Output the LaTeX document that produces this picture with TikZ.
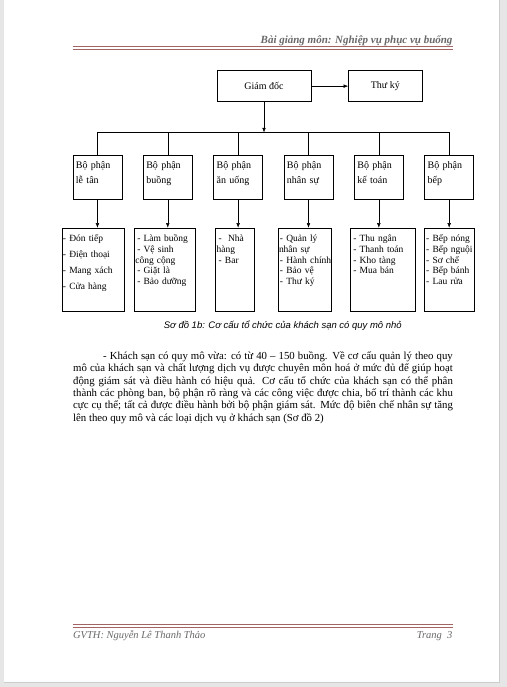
\documentclass[tikz,border=0pt]{standalone}
\usepackage{fontspec}
\setmainfont{Liberation Serif}
\newfontfamily\captionfont{Liberation Sans}
\usepackage{tikz}
\usetikzlibrary{positioning,arrows.meta}
\definecolor{pagegray}{RGB}{230,230,230}
\definecolor{edgegray}{RGB}{205,205,205}
\definecolor{rulered}{RGB}{165,100,100}
\definecolor{headgray}{RGB}{105,105,105}
\exhyphenpenalty=10000
\hbadness=10000
\tikzstyle{topbox}=[rectangle, draw=black, thin, minimum height=31pt, inner sep=0pt,
        text centered, font=\fontsize{10}{11}\selectfont]
\tikzstyle{deptbox}=[rectangle, draw=black, thin, anchor=north, text width=43pt,
        inner xsep=3pt, inner ysep=0pt, text height=13pt, text depth=31pt, align=left,
        font=\fontsize{10}{15}\selectfont]
\tikzstyle{taskbox}=[rectangle, draw=black, thin, inner xsep=1pt, inner ysep=0pt,
        text height=14pt, text depth=69pt, align=left,
        font=\fontsize{9.5}{10.6}\selectfont]
\tikzstyle{myarrow}=[-{Latex[length=4.5pt,width=3.5pt]}, thin]

\begin{document}
\begin{tikzpicture}[x=1pt, y=-1pt, node distance=21pt]
	% page
	\fill[pagegray] (0,0) rectangle (507,687);
	\fill[white] (4,0) rectangle (499,682);
	\draw[edgegray, line width=1pt] (499.5,0) -- (499.5,682.5) -- (4,682.5);
	\useasboundingbox (0,0) rectangle (507,687);

	% header and footer
	\node (Header) [anchor=base east, inner sep=0pt, text=headgray,
		font=\fontsize{11}{12}\selectfont\bfseries\itshape] at (453,43) {Bài giảng môn: Nghiệp vụ phục vụ buổng};
	\draw[rulered, line width=0.5pt] (73,46) -- (453,46);
	\draw[rulered, line width=1.1pt] (73,48.6) -- (453,48.6);
	\draw[rulered, line width=1.1pt] (73,624.5) -- (453,624.5);
	\draw[rulered, line width=0.5pt] (73,627.1) -- (453,627.1);
	\node (Author) [anchor=base west, inner sep=0pt, text=headgray,
		font=\fontsize{10.5}{12}\selectfont\itshape] at (73,638) {GVTH: Nguyễn Lê Thanh Thảo};
	\node (PageNo) [anchor=base east, inner sep=0pt, text=headgray,
		font=\fontsize{10.5}{12}\selectfont\itshape] at (453,638) {Trang~ 3};

	% top level
	\node (GiamDoc) [topbox, minimum width=94pt, anchor=north west] at (217,70) {Giám đốc};
	\node (ThuKy) [topbox, minimum width=74pt, right=37pt of GiamDoc] {Thư ký};
	\coordinate (BusLine) at (0,132);

	% departments
	\node (LeTan) [deptbox] at (97.5,155) {Bộ phận\\lễ tân};
	\node (Buong) [deptbox, right=of LeTan] {Bộ phận\\buồng};
	\node (AnUong) [deptbox, right=of Buong] {Bộ phận\\ăn uống};
	\node (NhanSu) [deptbox, right=of AnUong] {Bộ phận\\nhân sự};
	\node (KeToan) [deptbox, right=of NhanSu] {Bộ phận\\kế toán};
	\node (Bep) [deptbox, right=of KeToan] {Bộ phận\\bếp};

	% tasks
	\node (ViecLeTan) [taskbox, text width=60pt, below=28pt of LeTan, xshift=-4.5pt,
		font=\fontsize{9.5}{16}\selectfont]
		{-~Đón~tiếp\\-~Điện~thoại\\-~Mang~xách\\-~Cửa~hàng};
	\node (ViecBuong) [taskbox, text width=59pt, below=28pt of Buong, xshift=-3pt]
		{\hspace*{2pt}-~Làm~buồng\\\hspace*{2pt}-~Vệ~sinh\\công~cộng\\\hspace*{2pt}-~Giặt~là\\\hspace*{2pt}-~Bảo~dưỡng};
	\node (ViecAnUong) [taskbox, text width=37pt, below=28pt of AnUong, xshift=-3pt]
		{\hspace*{2pt}-~~Nhà\\hàng\\\hspace*{2pt}-~Bar};
	\node (ViecNhanSu) [taskbox, text width=51pt, below=28pt of NhanSu, xshift=-4pt]
		{\hspace*{1pt}-~Quản~lý\\nhân~sự\\\hspace*{1pt}-~Hành~chính\\\hspace*{1pt}-~Bảo~vệ\\\hspace*{1pt}-~Thư~ký};
	\node (ViecKeToan) [taskbox, text width=63pt, below=28pt of KeToan, xshift=4pt]
		{\hspace*{2pt}-~Thu~ngân\\\hspace*{2pt}-~Thanh~toán\\\hspace*{2pt}-~Kho~tàng\\\hspace*{2pt}-~Mua~bán};
	\node (ViecBep) [taskbox, text width=48pt, below=28pt of Bep, xshift=0pt]
		{\hspace*{1pt}-~Bếp~nóng\\\hspace*{1pt}-~Bếp~nguội\\\hspace*{1pt}-~Sơ~chế\\\hspace*{1pt}-~Bếp~bánh\\\hspace*{1pt}-~Lau~rửa};

	% connectors
	\draw[myarrow] (GiamDoc.east) -- (ThuKy.west);
	\draw[myarrow] (GiamDoc.south) -- (GiamDoc.south |- BusLine);
	\draw[thin] (LeTan.north |- BusLine) -- (Bep.north |- BusLine);
	\foreach \dept/\task in {LeTan/ViecLeTan, Buong/ViecBuong, AnUong/ViecAnUong,
		NhanSu/ViecNhanSu, KeToan/ViecKeToan, Bep/ViecBep}
	{
		\draw[thin] (\dept.north |- BusLine) -- (\dept.north);
		\draw[myarrow] (\dept.south) -- (\dept.south |- \task.north);
	}

	% caption and text
	\node (Caption) [inner sep=0pt, font=\fontsize{9.5}{11}\selectfont\captionfont\itshape]
		at (283,325) {Sơ đồ 1b: Cơ cấu tổ chức của khách sạn có quy mô nhỏ};
	\node (BodyText) [anchor=north west, inner sep=0pt, text width=380pt, align=justify,
		font=\fontsize{10.8}{12.4}\selectfont] at (73,351)
		{\hspace*{30pt}- Khách sạn có quy mô vừa: có từ 40 – 150 buồng. Về cơ cấu quản lý theo quy\linebreak
		mô của khách sạn và chất lượng dịch vụ được chuyên môn hoá ở mức đủ để giúp hoạt\linebreak
		động giám sát và điều hành có hiệu quả. Cơ cấu tổ chức của khách sạn có thể phân\linebreak
		thành các phòng ban, bộ phận rõ ràng và các công việc được chia, bố trí thành các khu\linebreak
		cực cụ thể; tất cả được điều hành bởi bộ phận giám sát. Mức độ biên chế nhân sự tăng\linebreak
		lên theo quy mô và các loại dịch vụ ở khách sạn (Sơ đồ 2)};
\end{tikzpicture}
\end{document}
